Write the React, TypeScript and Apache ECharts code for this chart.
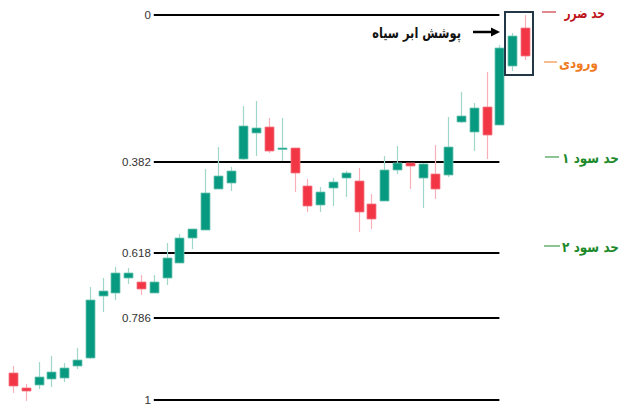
import React, { useEffect, useRef } from "react";
import * as echarts from "echarts";

// candle OHLC (price units)
const opens = [1027, 1012, 1015, 1021, 1022, 1034, 1042, 1104, 1107, 1122, 1118, 1107, 1122, 1137, 1162, 1170, 1211, 1217, 1241, 1267, 1273, 1251, 1252, 1214, 1195, 1212, 1222, 1219, 1196, 1199, 1230, 1237, 1222, 1226, 1225, 1278, 1268, 1293, 1275, 1334, 1372];
const closes = [1014, 1009, 1023, 1028, 1032, 1040, 1100, 1109, 1127, 1127, 1111, 1118, 1142, 1162, 1171, 1207, 1224, 1229, 1274, 1272, 1249, 1252, 1227, 1194, 1208, 1218, 1227, 1188, 1181, 1230, 1237, 1234, 1236, 1211, 1253, 1284, 1292, 1265, 1352, 1364, 1344];
const highs = [1034, 1016, 1038, 1044, 1037, 1052, 1113, 1122, 1133, 1132, 1125, 1125, 1157, 1166, 1171, 1231, 1253, 1233, 1294, 1299, 1282, 1282, 1252, 1221, 1213, 1222, 1229, 1232, 1206, 1244, 1254, 1237, 1237, 1255, 1283, 1308, 1297, 1328, 1355, 1367, 1385];
const lows = [1007, 999, 1011, 1013, 1018, 1031, 1041, 1088, 1100, 1116, 1105, 1107, 1115, 1137, 1151, 1170, 1211, 1209, 1240, 1244, 1247, 1239, 1208, 1188, 1188, 1194, 1203, 1168, 1171, 1199, 1226, 1211, 1192, 1201, 1223, 1277, 1249, 1241, 1275, 1329, 1340];

// Fibonacci retracement
const fibLevels = [0, 0.382, 0.618, 0.786, 1];
const fibLabels = ["0", "0.382", "0.618", "0.786", "1"];
const fibHigh = 1385;
const fibLow = 1000;
const fibStartIndex = 11;
const fibEndIndex = 38;

// annotation texts
const patternLabel = "پوشش ابر سیاه";
const stopLabel = "حد ضرر";
const entryLabel = "ورودی";
const target1Label = "حد سود ۱";
const target2Label = "حد سود ۲";

const categories = opens.map((_, i) => String(i + 1));

const GREEN = "#089981";
const GREEN_WICK = "#9fd8cb";
const RED = "#f23645";
const RED_WICK = "#f7b0b7";

export default function App() {
  const ref = useRef<HTMLDivElement>(null);
  useEffect(() => {
    if (!ref.current) return;
    const chart = echarts.init(ref.current, null, { renderer: "svg" });
    const data = opens.map((o, i) => [i, o, closes[i], lows[i], highs[i]]);
    const fibFont = "'Liberation Sans Narrow', 'Liberation Sans', Arial, sans-serif";
    const faFont = "'DejaVu Sans', 'Noto Sans', sans-serif";

    const sideLabel = (text: string, color: string, y: number, x1: number, x2: number, right: number, sx: number) => [
      {
        type: "line",
        shape: { x1, y1: y, x2, y2: y },
        style: { stroke: color, lineWidth: 1 },
      },
      {
        type: "text",
        x: right,
        y: y + 1,
        scaleX: sx,
        style: { text, fill: color, font: `bold 14px ${faFont}`, align: "right", verticalAlign: "middle" },
      },
    ];

    chart.setOption({
      animation: false,
      backgroundColor: "#ffffff",
      grid: { left: 6.6, right: 92.6, top: 5, bottom: 6 },
      xAxis: {
        type: "category",
        data: categories,
        show: false,
        boundaryGap: true,
      },
      yAxis: {
        type: "value",
        min: 995,
        max: 1395,
        show: false,
        splitLine: { show: false },
      },
      series: [
        {
          type: "line",
          data: [],
          silent: true,
          markLine: {
            silent: true,
            symbol: ["none", "none"],
            lineStyle: { color: "#000000", width: 2, type: "solid" },
            label: {
              show: true,
              position: "start",
              distance: 3,
              color: "#333333",
              fontSize: 11.5,
              fontFamily: fibFont,
            },
            data: fibLevels.map((lv, k) => [
              {
                coord: [fibStartIndex, fibHigh - lv * (fibHigh - fibLow)],
                label: { formatter: fibLabels[k] },
              },
              { coord: [fibEndIndex, fibHigh - lv * (fibHigh - fibLow)] },
            ]),
          },
          z: 1,
        },
        {
          type: "custom",
          data,
          encode: { x: 0, y: [1, 2, 3, 4] },
          z: 5,
          renderItem: (params: any, api: any) => {
            const x = api.value(0);
            const o = api.value(1);
            const c = api.value(2);
            const l = api.value(3);
            const h = api.value(4);
            const pO = api.coord([x, o]);
            const pC = api.coord([x, c]);
            const pL = api.coord([x, l]);
            const pH = api.coord([x, h]);
            const up = c >= o;
            const w = 9;
            const cx = Math.round(pO[0]) + 0.5;
            const top = Math.min(pO[1], pC[1]);
            const hgt = Math.max(1.5, Math.abs(pO[1] - pC[1]));
            return {
              type: "group",
              children: [
                {
                  type: "line",
                  shape: { x1: cx, y1: pH[1], x2: cx, y2: pL[1] },
                  style: { stroke: up ? GREEN_WICK : RED_WICK, lineWidth: 1.2 },
                },
                {
                  type: "rect",
                  shape: { x: cx - w / 2, y: top, width: w, height: hgt },
                  style: {
                    fill: up ? GREEN : RED,
                    stroke: up ? "#6cc4b0" : "#f57a85",
                    lineWidth: 0.8,
                  },
                },
              ],
            };
          },
        },
      ],
      graphic: [
        // box around the pattern
        {
          type: "rect",
          shape: { x: 505, y: 12, width: 28, height: 63 },
          style: { fill: "none", stroke: "#243746", lineWidth: 2 },
          z: 10,
        },
        // arrow
        {
          type: "line",
          shape: { x1: 473, y1: 32, x2: 492, y2: 32 },
          style: { stroke: "#000000", lineWidth: 2.5 },
          z: 10,
        },
        {
          type: "polygon",
          shape: { points: [[491, 27.5], [500, 32], [491, 36.5]] },
          style: { fill: "#000000" },
          z: 10,
        },
        {
          type: "text",
          x: 461,
          y: 33,
          scaleX: 0.76,
          style: {
            text: patternLabel,
            fill: "#111111",
            font: `bold 15px ${faFont}`,
            align: "right",
            verticalAlign: "middle",
          },
          z: 10,
        },
        ...sideLabel(stopLabel, "#c0141c", 12, 542, 556, 605, 0.76),
        ...sideLabel(entryLabel, "#f07a1e", 62, 544, 557, 598, 0.86),
        ...sideLabel(target1Label, "#1d8a2a", 157, 545, 559, 619, 0.86),
        ...sideLabel(target2Label, "#1d8a2a", 246, 544, 560, 619, 0.86),
      ],
    });
    return () => chart.dispose();
  }, []);

  return (
    <div
      ref={ref}
      style={{ position: "fixed", left: 0, top: 0, width: 624, height: 411, background: "#fff" }}
    />
  );
}
